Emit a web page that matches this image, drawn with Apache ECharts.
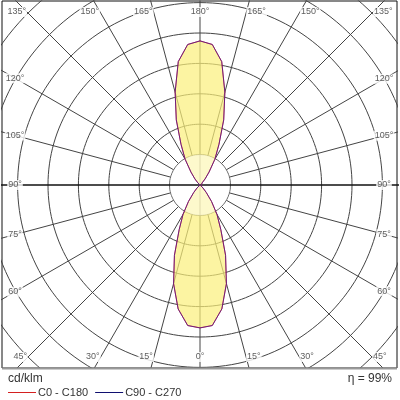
<!DOCTYPE html>
<html><head><meta charset="utf-8">
<script src="https://cdn.jsdelivr.net/npm/echarts@6/dist/echarts.min.js"></script>
<style>html,body{margin:0;padding:0;background:#fff}#c{width:400px;height:400px}</style>
</head><body><div id="c"></div>
<script>
// ---- data ----
const gammaAngles = [0,5,10,15,20,25,30,35,40,45,50,55,60,65,70,75,80,85,90,95,100,105,110,115,120,125,130,135,140,145,150,155,160,165,170,175,180];
const intensityC0C180 = [235,232,207,168,123,81,56,33,16,7,2,0,0,0,0,0,0,0,0,0,0,0,0,0,0,0,2,5,13,26,49,74,114,158,206,232,237];
const intensityC90C270 = [235,232,207,168,123,81,56,33,16,7,2,0,0,0,0,0,0,0,0,0,0,0,0,0,0,0,2,5,13,26,49,74,114,158,206,232,237];
const ringValues = [50,100,150,200,250,300,350,400];
const radialAngles = [15,30,45,60,75,105,120,135,150,165];
const tickLabels = [0,15,30,45,60,75,90,105,120,135,150,165,180];
const seriesNames = ['C0 - C180','C90 - C270'];
const seriesColors = ['#d42020','#101070'];
const unitLabel = 'cd/klm';
const efficiencyLabel = 'η = 99%';

// ---- layout ----
const CX=200, CY=185, L=2, R=397, T=1, B=368;
const S = 30.4/50; // px per cd/klm
const FONT = 'Liberation Sans, Arial, sans-serif';
const rad = d => d*Math.PI/180;
const px2x = p => (p-CX)/S, py2y = p => (CY-p)/S;

function polarPts(angles, vals, side){
  return angles.map((g,i)=>[side*vals[i]*Math.sin(rad(g)), -vals[i]*Math.cos(rad(g))]);
}
function loop(vals){
  const right = polarPts(gammaAngles, vals, 1);
  const left = polarPts(gammaAngles, vals, -1).reverse();
  return right.concat(left);
}

const series = [];
const gridLine = {color:'#444', width:1};
ringValues.forEach(r=>{
  const d=[]; for(let a=0;a<=360;a+=2) d.push([r*Math.cos(rad(a)), r*Math.sin(rad(a))]);
  series.push({type:'line', data:d, symbol:'none', silent:true, lineStyle:gridLine, z:1, animation:false});
});
radialAngles.forEach(g=>{
  [1,-1].forEach(side=>{
    series.push({type:'line', data:[[side*ringValues[0]*Math.sin(rad(g)), -ringValues[0]*Math.cos(rad(g))],[side*600*Math.sin(rad(g)), -600*Math.cos(rad(g))]], symbol:'none', silent:true, lineStyle:gridLine, z:1, animation:false});
  });
});
// vertical axis
series.push({type:'line', data:[[0,-600],[0,600]], symbol:'none', silent:true, lineStyle:gridLine, z:1, animation:false});
// lobe fill
series.push({type:'line', data:loop(intensityC0C180), symbol:'none', silent:true, lineStyle:{width:0}, areaStyle:{color:'rgb(251,239,122)', opacity:0.7}, z:2, animation:false});
// inner disc overlay
(function(){
  const r=ringValues[0]; const d=[]; for(let a=-90;a<=270;a+=3) d.push([r*Math.cos(rad(a)), r*Math.sin(rad(a))]);
  series.push({type:'line', data:d, symbol:'none', silent:true, lineStyle:{width:0}, areaStyle:{color:'#fff', opacity:0.45}, z:3, animation:false});
})();
// horizontal axis
series.push({type:'line', data:[[-600,0],[600,0]], symbol:'none', silent:true, lineStyle:{color:'#111', width:1.3}, z:3, animation:false});
// outlines
series.push({name:seriesNames[0], type:'line', data:loop(intensityC0C180), symbol:'none', lineStyle:{color:'#e01818', width:1}, itemStyle:{color:seriesColors[0]}, z:4, animation:false});
series.push({name:seriesNames[1], type:'line', data:loop(intensityC90C270), symbol:'none', lineStyle:{color:'#2020c0', width:1, opacity:0.6}, itemStyle:{color:seriesColors[1]}, z:4, animation:false});

// angle labels
const labelData=[];
tickLabels.forEach(g=>{
  const sides = (g===0||g===180)?[0]:[-1,1];
  sides.forEach(side=>{
    let px, py, align='center';
    if (g<=45 || g>=135){
      const bottom = g<=45;
      py = bottom ? 357 : 12;
      const alpha = bottom ? g : 180-g;
      const dist = bottom ? (py-CY) : (CY-py);
      px = CX + side*dist*Math.tan(rad(alpha));
      if (side<0) align='right'; else if (side>0) align='left';
    } else {
      px = side<0 ? 15 : 384;
      const elev = g-90;
      py = CY - Math.abs(px-CX)*Math.tan(rad(elev));
    }
    labelData.push({value:[px2x(px), py2y(py)], label:{align:align, formatter: g+'°'}});
  });
});
series.push({type:'scatter', data:labelData, symbolSize:1, itemStyle:{color:'rgba(0,0,0,0)'}, silent:true, z:6, animation:false,
  label:{show:true, position:'inside', verticalAlign:'middle', fontSize:9, color:'#333', fontFamily:FONT, backgroundColor:'#fff', padding:[1,1,0,1]}});

const chart = echarts.init(document.getElementById('c'), null, {renderer:'canvas'});
chart.setOption({
  animation:false,
  backgroundColor:'#fff',
  grid:{left:L, top:T, width:R-L, height:B-T, show:true, borderColor:'#111', borderWidth:1, backgroundColor:'#fff'},
  xAxis:{type:'value', min:px2x(L), max:px2x(R), show:false},
  yAxis:{type:'value', min:py2y(B), max:py2y(T), show:false},
  legend:{left:3, top:382, itemWidth:28, itemHeight:1, itemGap:7, icon:'rect', selectedMode:false,
    data:seriesNames.map((n,i)=>({name:n, icon:'rect', itemStyle:{color:seriesColors[i], borderWidth:0}})),
    textStyle:{fontSize:11, color:'#333', fontFamily:FONT, padding:[0,0,0,-3]}},
  graphic:[
    {type:'line', shape:{x1:L, y1:B+0.5, x2:R, y2:B+0.5}, style:{stroke:'#999', lineWidth:2}, z:10},
    {type:'text', left:8, top:373, style:{text:unitLabel, fontSize:12, fill:'#333', fontFamily:FONT}},
    {type:'text', right:8, top:373, style:{text:efficiencyLabel, fontSize:12, fill:'#333', fontFamily:FONT}}
  ],
  series:series
});
</script></body></html>
